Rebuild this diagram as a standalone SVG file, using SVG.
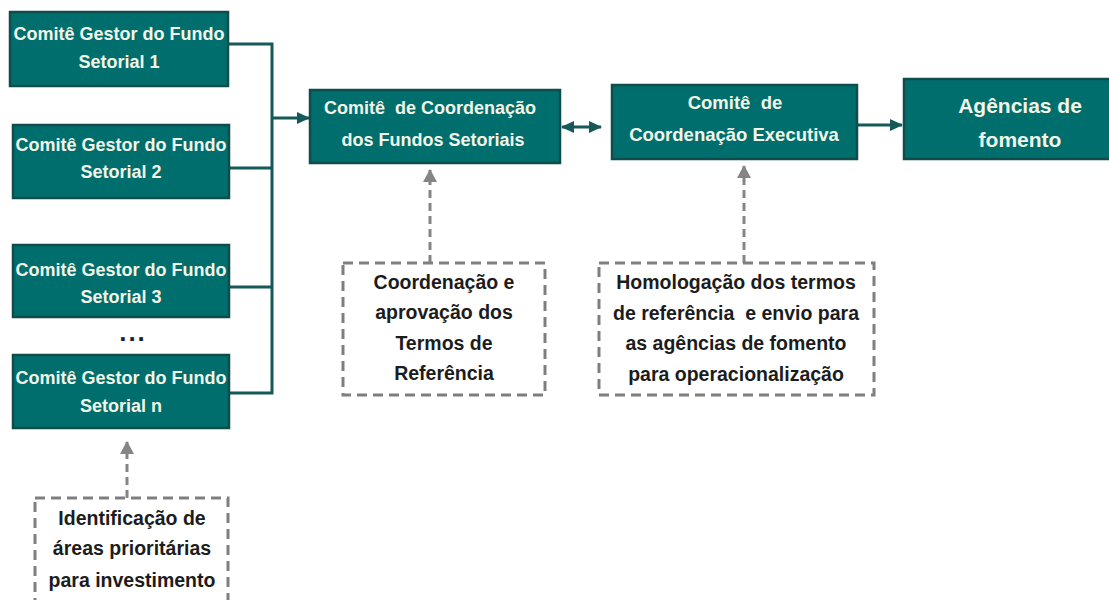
<svg xmlns="http://www.w3.org/2000/svg" width="1109" height="600" viewBox="0 0 1109 600">
<style>
.box{fill:#006e6c;stroke:#0e4d4c;stroke-width:2.5}
.bt{font-family:"Liberation Sans",Arial,sans-serif;font-weight:bold;fill:#f3f5e8;text-anchor:middle}
.dbox{fill:#ffffff;stroke:#7f7f7f;stroke-width:3;stroke-dasharray:10 6}
.dt{font-family:"Liberation Sans",Arial,sans-serif;font-weight:bold;fill:#1c1c1c;text-anchor:middle;font-size:19.5px}
.con{fill:none;stroke:#155958;stroke-width:3}
.dcon{fill:none;stroke:#858585;stroke-width:3;stroke-dasharray:8 5}
</style>
<defs>
<marker id="ah" markerWidth="13" markerHeight="12" refX="12" refY="6" orient="auto" markerUnits="userSpaceOnUse"><path d="M0,0 L13,6 L0,12 z" fill="#155958"/></marker>
<marker id="ahs" markerWidth="13" markerHeight="12" refX="1" refY="6" orient="auto" markerUnits="userSpaceOnUse"><path d="M13,0 L0,6 L13,12 z" fill="#155958"/></marker>
<marker id="gh" markerWidth="14" markerHeight="14" refX="12" refY="7" orient="auto" markerUnits="userSpaceOnUse"><path d="M0,0 L13,7 L0,14 z" fill="#858585"/></marker>
</defs>
<rect width="1109" height="600" fill="#ffffff"/>
<g id="connectors">
<path class="con" d="M228,44 H272 V393 H228"/>
<path class="con" d="M229,168 H272"/>
<path class="con" d="M229,287 H272"/>
<path class="con" d="M272,118 H309" marker-end="url(#ah)"/>
<path class="con" d="M562,127 H601" marker-start="url(#ahs)" marker-end="url(#ah)"/>
<path class="con" d="M858,125 H902" marker-end="url(#ah)"/>
<path class="dcon" d="M430,263 V170" marker-end="url(#gh)"/>
<path class="dcon" d="M744,263 V166" marker-end="url(#gh)"/>
<path class="dcon" d="M127,498 V442" marker-end="url(#gh)"/>
</g>
<g id="gestor1"><rect class="box" x="10" y="12" width="218" height="74"/>
<text class="bt" font-size="18" x="119" y="39.5">Comitê Gestor do Fundo</text>
<text class="bt" font-size="18" x="119" y="68">Setorial 1</text></g>
<g id="gestor2"><rect class="box" x="13" y="125" width="216" height="73"/>
<text class="bt" font-size="18" x="121" y="151">Comitê Gestor do Fundo</text>
<text class="bt" font-size="18" x="121" y="178">Setorial 2</text></g>
<g id="gestor3"><rect class="box" x="13" y="245" width="216" height="72"/>
<text class="bt" font-size="18" x="121" y="276">Comitê Gestor do Fundo</text>
<text class="bt" font-size="18" x="121" y="303">Setorial 3</text></g>
<text id="dots" x="133" y="341" font-family="Liberation Sans,Arial,sans-serif" font-weight="bold" font-size="26" fill="#1a1f3a" text-anchor="middle" letter-spacing="2">...</text>
<g id="gestorn"><rect class="box" x="13" y="355" width="216" height="73"/>
<text class="bt" font-size="18" x="121" y="384">Comitê Gestor do Fundo</text>
<text class="bt" font-size="18" x="121" y="412">Setorial n</text></g>
<g id="coordenacao"><rect class="box" x="310" y="90" width="250" height="73"/>
<text class="bt" font-size="18" x="430" y="114" xml:space="preserve">Comitê  de Coordenação</text>
<text class="bt" font-size="18" x="433" y="146">dos Fundos Setoriais</text></g>
<g id="executiva"><rect class="box" x="612" y="85" width="245" height="74"/>
<text class="bt" font-size="18.5" x="735" y="109" xml:space="preserve">Comitê  de</text>
<text class="bt" font-size="18.5" x="734" y="141">Coordenação Executiva</text></g>
<g id="agencias"><rect class="box" x="904" y="79" width="215" height="80"/>
<text class="bt" font-size="21" x="1020" y="113">Agências de</text>
<text class="bt" font-size="21" x="1020" y="147">fomento</text></g>
<g id="nota-coordenacao"><rect class="dbox" x="343" y="263" width="202" height="132"/>
<text class="dt" x="444" y="289">Coordenação e</text>
<text class="dt" x="444" y="319">aprovação dos</text>
<text class="dt" x="444" y="350">Termos de</text>
<text class="dt" x="444" y="380">Referência</text></g>
<g id="nota-homologacao"><rect class="dbox" x="599" y="263" width="275" height="132"/>
<text class="dt" x="736" y="289">Homologação dos termos</text>
<text class="dt" x="736" y="320" xml:space="preserve">de referência  e envio para</text>
<text class="dt" x="736" y="350">as agências de fomento</text>
<text class="dt" x="736" y="381">para operacionalização</text></g>
<g id="nota-identificacao"><rect class="dbox" x="35" y="498" width="193" height="110"/>
<text class="dt" x="132" y="525">Identificação de</text>
<text class="dt" x="132" y="555">áreas prioritárias</text>
<text class="dt" x="132" y="587">para investimento</text></g>
</svg>
